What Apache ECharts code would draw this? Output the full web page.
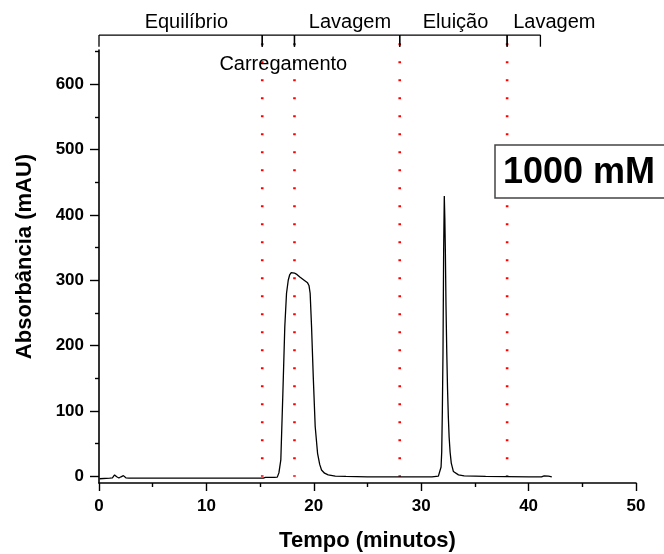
<!DOCTYPE html>
<html>
<head>
<meta charset="utf-8">
<script src="https://cdn.jsdelivr.net/npm/echarts@6/dist/echarts.min.js"></script>
<style>
html,body{margin:0;padding:0;background:#fff;}
#chart{width:664px;height:554px;}
</style>
</head>
<body>
<div id="chart"></div>
<script>
// ---- data ----
const timeMin = [0.05, 1.0, 1.25, 1.45, 1.65, 1.85, 2.05, 2.27, 2.5, 2.8, 5, 10, 15.3, 15.5, 16.3, 16.6, 16.75, 16.93, 17.12, 17.3, 17.46, 17.62, 17.75, 17.9, 18.02, 18.2, 18.45, 18.7, 19.1, 19.42, 19.55, 19.66, 19.79, 19.95, 20.13, 20.35, 20.55, 20.72, 21.0, 21.34, 22.0, 23, 25, 28, 31.0, 31.6, 31.75, 31.85, 31.91, 31.97, 32.03, 32.09, 32.15, 32.2, 32.25, 32.31, 32.38, 32.45, 32.53, 32.6, 32.69, 32.8, 33.0, 33.47, 34.0, 36, 40, 41.2, 41.45, 41.63, 41.85, 42.0, 42.16];
const absorbance = [-4, -3, -2.5, 1.8, -1, -2.8, -1, 0.8, -2.5, -3, -3, -3, -3, -2, -2, -1.5, 5, 25, 127, 229, 280, 300, 308, 311.5, 312, 311, 308.5, 305, 300, 296, 292, 280, 229, 152, 76, 35, 18, 9.5, 4.5, 2, 0, -0.5, -1, -1, -1, 0, 3, 14, 37, 100, 190, 344, 429, 395, 344, 260, 190, 135, 89, 60, 37, 20, 7, 2, 0.5, -0.5, -1, -1, 0.5, 1.5, 0, -1, -1];

const xTickValues = [0, 10, 20, 30, 40, 50];
const yTickValues = [0, 100, 200, 300, 400, 500, 600];
const yMinorTickValues = [50, 150, 250, 350, 450, 550, 650];

const phaseBounds = [0, 15.2, 18.2, 28, 38, 41.1];
const markerLinesX = [15.2, 18.2, 28, 38];
const phaseNames = ['Equilíbrio', 'Lavagem', 'Eluição', 'Lavagem'];
const phaseLabelX = [8.13, 23.37, 33.2, 42.4];
const loadingName = ['Carregamento'];
const loadingLabelX = [17.16];
const concentrationLabel = '1000 mM';

const xTitle = 'Tempo (minutos)';
const yTitle = 'Absorbância (mAU)';

// ---- chart ----
const FONT = "'Liberation Sans', Arial, sans-serif";
const Y_MIN = -10.5, Y_MAX = 652.5;
const BRACKET_Y = 675.4, BRACKET_TICK_Y = 657.5;
const PHASE_LABEL_Y = 695, LOADING_LABEL_Y = 630.6;
const MARKER_TOP = 663, MARKER_BOTTOM = -1;

const curve = timeMin.map((t, i) => [t, absorbance[i]]);
const segments = phaseBounds.slice(0, -1).map((b, i) => [b, phaseBounds[i + 1]]);

const chart = echarts.init(document.getElementById('chart'), null, {renderer: 'canvas'});
chart.setOption({
  animation: false,
  backgroundColor: '#fff',
  grid: {left: 99, right: 28, top: 50, bottom: 71, outerBoundsMode: 'none'},
  xAxis: {
    type: 'value', min: 0, max: 50, interval: 10,
    name: xTitle, nameLocation: 'middle', nameGap: 47,
    nameTextStyle: {fontFamily: FONT, fontSize: 22, fontWeight: 'bold', color: '#000'},
    axisLine: {onZero: false, lineStyle: {color: '#000', width: 1.6}},
    axisTick: {length: 8, lineStyle: {color: '#000', width: 1.4}},
    minorTick: {show: true, splitNumber: 2, length: 4, lineStyle: {color: '#000', width: 1.4}},
    axisLabel: {fontFamily: FONT, fontSize: 17, fontWeight: 'bold', color: '#000', margin: 15},
    splitLine: {show: false}
  },
  yAxis: [{
    type: 'value', min: Y_MIN, max: Y_MAX,
    name: yTitle, nameLocation: 'middle', nameGap: 63,
    nameTextStyle: {fontFamily: FONT, fontSize: 22, fontWeight: 'bold', color: '#000', padding: [0, 0, 0, 20]},
    axisLine: {show: true, lineStyle: {color: '#000', width: 1.6}},
    axisTick: {show: true, length: 9, customValues: yTickValues, lineStyle: {color: '#000', width: 1.4}},
    axisLabel: {customValues: yTickValues, fontFamily: FONT, fontSize: 17, fontWeight: 'bold', color: '#000', margin: 15},
    splitLine: {show: false}
  }, {
    type: 'value', min: Y_MIN, max: Y_MAX, position: 'left',
    axisLine: {show: false},
    axisTick: {show: true, length: 4, customValues: yMinorTickValues, lineStyle: {color: '#000', width: 1.4}},
    axisLabel: {show: false},
    splitLine: {show: false}
  }],
  series: [
    {
      name: 'markers', type: 'custom', clip: false, z: 2,
      data: markerLinesX.map(x => [x]),
      renderItem: function (params, api) {
        const top = api.coord([api.value(0), MARKER_TOP]);
        const bot = api.coord([api.value(0), MARKER_BOTTOM]);
        return {type: 'line', shape: {x1: top[0], y1: top[1], x2: bot[0], y2: bot[1]},
          style: {stroke: '#ff0000', lineWidth: 2.6, lineDash: [2, 16], lineCap: 'butt'}};
      }
    },
    {
      name: 'chromatogram', type: 'line', data: curve, showSymbol: false, z: 3,
      yAxisIndex: 0,
      lineStyle: {color: '#000', width: 1.3}
    },
    {
      name: 'bracket', type: 'custom', clip: false, z: 3,
      data: segments,
      renderItem: function (params, api) {
        const a = api.coord([api.value(0), BRACKET_Y]);
        const b = api.coord([api.value(1), BRACKET_Y]);
        const aLow = api.coord([api.value(0), BRACKET_TICK_Y]);
        const bLow = api.coord([api.value(1), BRACKET_TICK_Y]);
        const st = {stroke: '#000', lineWidth: 1.3};
        return {type: 'group', children: [
          {type: 'line', shape: {x1: a[0], y1: a[1], x2: b[0], y2: b[1]}, style: st},
          {type: 'line', shape: {x1: a[0], y1: a[1], x2: aLow[0], y2: aLow[1]}, style: st},
          {type: 'line', shape: {x1: b[0], y1: b[1], x2: bLow[0], y2: bLow[1]}, style: st}
        ]};
      }
    },
    {
      name: 'phaseLabels', type: 'custom', clip: false, z: 4,
      data: phaseLabelX.map(x => [x, PHASE_LABEL_Y]),
      renderItem: function (params, api) {
        const p = api.coord([api.value(0), api.value(1)]);
        return {type: 'text', style: {text: phaseNames[params.dataIndex], x: p[0], y: p[1],
          fill: '#000', font: '20px ' + FONT, align: 'center', verticalAlign: 'middle'}};
      }
    },
    {
      name: 'loadingLabel', type: 'custom', clip: false, z: 4,
      data: loadingLabelX.map(x => [x, LOADING_LABEL_Y]),
      renderItem: function (params, api) {
        const p = api.coord([api.value(0), api.value(1)]);
        return {type: 'text', style: {text: loadingName[params.dataIndex], x: p[0], y: p[1],
          fill: '#000', font: '20px ' + FONT, align: 'center', verticalAlign: 'middle'}};
      }
    }
  ],
  graphic: {
    elements: [
      {type: 'rect', z: 100, zlevel: 1, shape: {x: 495, y: 145, width: 190, height: 53},
        style: {fill: '#fff', stroke: '#444', lineWidth: 1.5}},
      {type: 'text', z: 101, zlevel: 1, style: {text: concentrationLabel, x: 503, y: 173,
        font: 'bold 36px ' + FONT, fill: '#000', verticalAlign: 'middle'}}
    ]
  }
});
</script>
</body>
</html>
